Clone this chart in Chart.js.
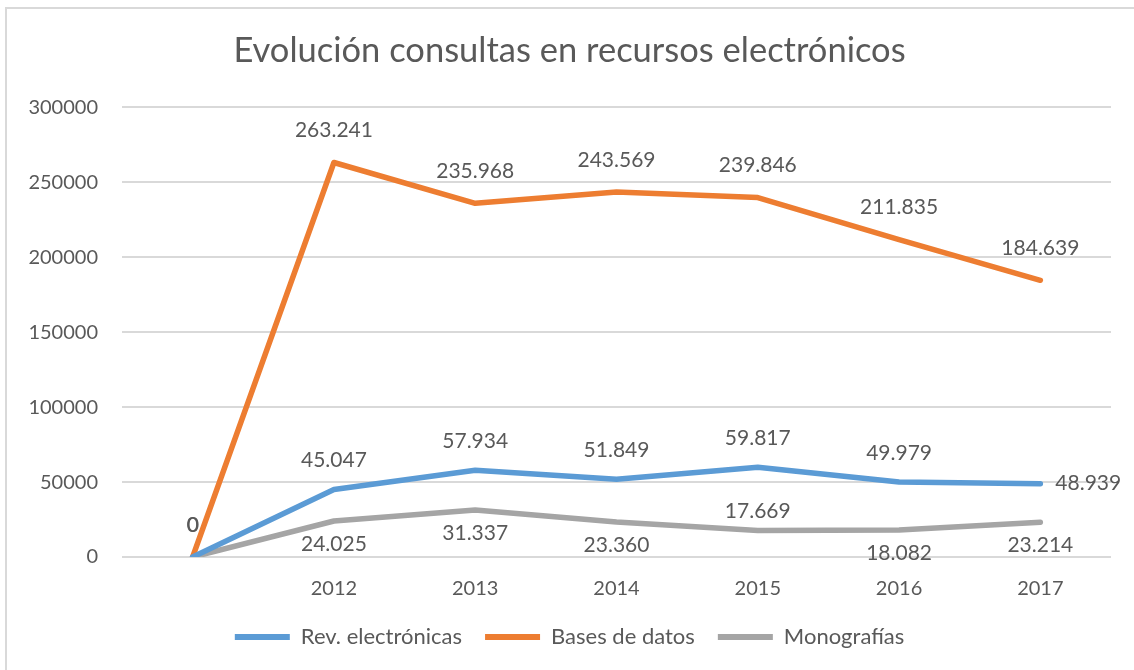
<!DOCTYPE html>
<html>
<head>
<meta charset="utf-8">
<script src="https://cdn.jsdelivr.net/npm/chart.js@4/dist/chart.umd.min.js"></script>
<style>
  html, body { margin: 0; padding: 0; background: #fff; }
  #wrap { position: relative; width: 1134px; height: 670px; overflow: hidden; }
  #frame { position: absolute; left: 5px; top: 7px; width: 1200px; height: 700px;
           border-top: 2px solid #d9d9d9; border-left: 2px solid #d9d9d9; pointer-events: none; }
  canvas { position: absolute; left: 0; top: 0; }
</style>
</head>
<body>
<div id="wrap">
  <canvas id="chart" width="1134" height="670"></canvas>
  <div id="frame"></div>
</div>
<script>
// datos
var years = ["", "2012", "2013", "2014", "2015", "2016", "2017"];
var revElectronicas = [0, 45047, 57934, 51849, 59817, 49979, 48939];
var basesDatos = [0, 263241, 235968, 243569, 239846, 211835, 184639];
var monografias = [0, 24025, 31337, 23360, 17669, 18082, 23214];
var yTicks = [0, 50000, 100000, 150000, 200000, 250000, 300000];

// donde va cada etiqueta
var posRev = ["none", "above", "above", "above", "above", "above", "right"];
var posBases = ["above", "above", "above", "above", "above", "above", "above"];
var posMono = ["none", "below", "below", "below", "above", "below", "below"];

var textColor = "#595959";
var fontFamily = "Lato, 'Open Sans', sans-serif";

function fmt(v) {
  // separador de miles con punto
  return String(v).replace(/\B(?=(\d{3})+(?!\d))/g, ".");
}

var labelPlugin = {
  id: "pointLabels",
  afterDatasetsDraw: function (chart) {
    var ctx = chart.ctx;
    ctx.save();
    ctx.font = "21px " + fontFamily;
    ctx.fillStyle = textColor;
    ctx.textBaseline = "middle";
    chart.data.datasets.forEach(function (ds, i) {
      var meta = chart.getDatasetMeta(i);
      meta.data.forEach(function (pt, j) {
        var pos = ds.labelPos[j];
        if (pos === "none") return;
        var txt = fmt(ds.data[j]);
        var x = pt.x, y = pt.y;
        ctx.textAlign = "center";
        if (pos === "above") y -= ds.labelGap;
        else if (pos === "below") y += 23;
        else if (pos === "right") { ctx.textAlign = "left"; x += 15; }
        ctx.fillText(txt, x, y);
        if (ds.data[j] === 0) ctx.fillText(txt, x + 0.5, y); // el 0 sale más grueso
      });
    });
    ctx.restore();
  }
};

var ctx = document.getElementById("chart").getContext("2d");
new Chart(ctx, {
  type: "line",
  data: {
    labels: years,
    datasets: [{
      label: "Rev. electrónicas",
      data: revElectronicas,
      borderColor: "#5b9bd5",
      backgroundColor: "#5b9bd5",
      labelPos: posRev,
      labelGap: 29
    }, {
      label: "Bases de datos",
      data: basesDatos,
      borderColor: "#ed7d31",
      backgroundColor: "#ed7d31",
      labelPos: posBases,
      labelGap: 32
    }, {
      label: "Monografías",
      data: monografias,
      borderColor: "#a5a5a5",
      backgroundColor: "#a5a5a5",
      labelPos: posMono,
      labelGap: 19
    }]
  },
  options: {
    responsive: false,
    animation: false,
    layout: { padding: { left: 28, right: 23, top: 0, bottom: 12 } },
    elements: {
      line: { borderWidth: 5.5, tension: 0, borderJoinStyle: "round", borderCapStyle: "round" },
      point: { radius: 0, hoverRadius: 0 }
    },
    scales: {
      x: {
        offset: true,
        afterFit: function (scale) { scale.height = 46; },
        grid: { display: false, drawTicks: false },
        border: { display: false },
        ticks: { color: textColor, font: { family: fontFamily, size: 20 }, padding: 20 }
      },
      y: {
        min: 0,
        max: 300000,
        afterBuildTicks: function (scale) {
          scale.ticks = yTicks.map(function (v) { return { value: v }; });
        },
        afterFit: function (scale) { scale.width = 94; },
        grid: { color: "#d9d9d9", lineWidth: 2, drawTicks: false },
        border: { display: false },
        ticks: {
          color: textColor,
          font: { family: fontFamily, size: 20 },
          padding: 24,
          callback: function (v) { return String(v); }
        }
      }
    },
    plugins: {
      title: {
        display: true,
        text: "Evolución consultas en recursos electrónicos",
        color: textColor,
        font: { family: fontFamily, size: 34.5, weight: "normal" },
        padding: { top: 30, bottom: 36 }
      },
      legend: {
        position: "bottom",
        labels: {
          color: textColor,
          font: { family: fontFamily, size: 22 },
          boxWidth: 55,
          boxHeight: 6,
          padding: 23,
          generateLabels: function (chart) {
            return Chart.defaults.plugins.legend.labels.generateLabels(chart).map(function (l) {
              l.lineWidth = 0;
              l.fillStyle = l.strokeStyle;
              return l;
            });
          }
        }
      },
      tooltip: { enabled: false }
    }
  },
  plugins: [labelPlugin]
});
</script>
</body>
</html>
